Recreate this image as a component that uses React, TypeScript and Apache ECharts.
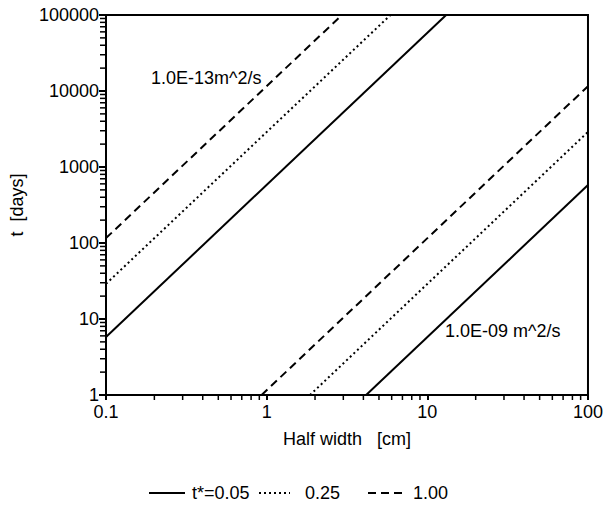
import React, { useEffect, useRef } from "react";
import * as echarts from "echarts";

// Category labels (t* values) used in the legend
const tStarNames = ["t*=0.05", "0.25", "1.00"];

// Lines for D = 1.0E-13 m^2/s : [half width cm, t days] endpoints
const d13_005 = [[0.1, 5.8], [13.1, 100000]];
const d13_025 = [[0.1, 29], [5.9, 100000]];
const d13_100 = [[0.1, 116], [2.94, 100000]];

// Lines for D = 1.0E-09 m^2/s
const d09_005 = [[4.16, 1], [100, 578]];
const d09_025 = [[1.86, 1], [100, 2894]];
const d09_100 = [[0.93, 1], [100, 11574]];

// Axis ranges and minor tick mantissas
const xRange = [0.1, 100];
const yRange = [1, 100000];
const minorMantissas = [2, 3, 4, 5, 6, 7, 8, 9];
const xDecades = [0.1, 1, 10];
const yDecades = [1, 10, 100, 1000, 10000];

const annotations = ["1.0E-13m^2/s", "1.0E-09 m^2/s"];

const FONT = "Liberation Sans, Arial, Helvetica, sans-serif";

export default function App() {
  const ref = useRef<HTMLDivElement>(null);
  useEffect(() => {
    if (!ref.current) return;
    const chart = echarts.init(ref.current, undefined, { renderer: "svg" });

    const lineStyles: any[] = [
      { color: "#000", width: 2, type: "solid" },
      { color: "#000", width: 2, type: [2, 3] },
      { color: "#000", width: 2, type: [8, 5] },
    ];
    const mk = (name: string, data: number[][], ls: any) => ({
      name,
      type: "line",
      data,
      symbol: "none",
      showSymbol: false,
      lineStyle: ls,
      itemStyle: { color: "#000" },
      silent: true,
    });

    const fmt = (v: number) => (v < 1 ? String(Math.round(v * 10) / 10) : String(Math.round(v)));

    const legendItems = [
      { x: 149, w: 36, dash: null as any, textX: 192, label: tStarNames[0] },
      { x: 259, w: 31, dash: [2, 3], textX: 305, label: tStarNames[1] },
      { x: 368, w: 39, dash: [8, 5], textX: 413, label: tStarNames[2] },
    ];
    const legendY = 493;
    const staticGraphics: any[] = [
      {
        type: "text",
        left: 151,
        top: 69,
        style: { text: annotations[0], fontSize: 18, fill: "#000", fontFamily: FONT },
      },
      {
        type: "text",
        left: 445,
        top: 322,
        style: { text: annotations[1], fontSize: 18, fill: "#000", fontFamily: FONT },
      },
    ];
    legendItems.forEach((it) => {
      staticGraphics.push({
        type: "line",
        shape: { x1: it.x, y1: legendY, x2: it.x + it.w, y2: legendY },
        style: { stroke: "#000", lineWidth: 2, lineDash: it.dash || undefined },
      });
      staticGraphics.push({
        type: "text",
        x: it.textX,
        y: legendY,
        style: {
          text: it.label,
          fontSize: 18,
          fill: "#000",
          fontFamily: FONT,
          verticalAlign: "middle",
          align: "left",
        },
      });
    });

    chart.setOption({
      animation: false,
      textStyle: { fontFamily: FONT, color: "#000" },
      grid: {
        left: 105,
        right: 16,
        top: 15,
        bottom: 113,
        show: true,
        borderColor: "#000",
        borderWidth: 2,
      },
      xAxis: {
        type: "log",
        min: xRange[0],
        max: xRange[1],
        name: "Half width   [cm]",
        nameLocation: "middle",
        nameGap: 35,
        nameTextStyle: { fontSize: 18, color: "#000", fontFamily: FONT },
        axisLine: { show: true, lineStyle: { color: "#000", width: 2 } },
        axisTick: { show: true, length: 5, lineStyle: { color: "#000", width: 2 } },
        splitLine: { show: false },
        axisLabel: { fontSize: 18, color: "#000", margin: 8, formatter: fmt, fontFamily: FONT },
      },
      yAxis: {
        type: "log",
        min: yRange[0],
        max: yRange[1],
        name: "t  [days]",
        nameLocation: "middle",
        nameRotate: 90,
        nameGap: 80,
        nameTextStyle: { fontSize: 18, color: "#000", fontFamily: FONT },
        axisLine: { show: true, lineStyle: { color: "#000", width: 2 } },
        axisTick: { show: true, length: 7, lineStyle: { color: "#000", width: 2 } },
        splitLine: { show: false },
        axisLabel: { fontSize: 18, color: "#000", margin: 7, formatter: fmt, fontFamily: FONT },
      },
      graphic: staticGraphics,
      series: [
        mk(tStarNames[0], d13_005, lineStyles[0]),
        mk(tStarNames[1], d13_025, lineStyles[1]),
        mk(tStarNames[2], d13_100, lineStyles[2]),
        mk(tStarNames[0], d09_005, lineStyles[0]),
        mk(tStarNames[1], d09_025, lineStyles[1]),
        mk(tStarNames[2], d09_100, lineStyles[2]),
      ],
    });

    // Minor tick marks placed through the chart's own log scales
    const tickGraphics: any[] = [];
    xDecades.forEach((d) =>
      minorMantissas.forEach((m) => {
        const p = chart.convertToPixel({ gridIndex: 0 }, [d * m, yRange[0]]) as number[];
        if (!p) return;
        tickGraphics.push({
          type: "line",
          shape: { x1: p[0], y1: p[1], x2: p[0], y2: p[1] + 5 },
          style: { stroke: "#000", lineWidth: 1.5 },
        });
      })
    );
    yDecades.forEach((d) =>
      minorMantissas.forEach((m) => {
        const p = chart.convertToPixel({ gridIndex: 0 }, [xRange[0], d * m]) as number[];
        if (!p) return;
        tickGraphics.push({
          type: "line",
          shape: { x1: p[0] - 6, y1: p[1], x2: p[0], y2: p[1] },
          style: { stroke: "#000", lineWidth: 1.5 },
        });
      })
    );
    chart.setOption({ graphic: [...staticGraphics, ...tickGraphics] });

    return () => chart.dispose();
  }, []);
  return (
    <div ref={ref} style={{ position: "fixed", left: 0, top: 0, width: 606, height: 508, background: "#fff" }} />
  );
}
